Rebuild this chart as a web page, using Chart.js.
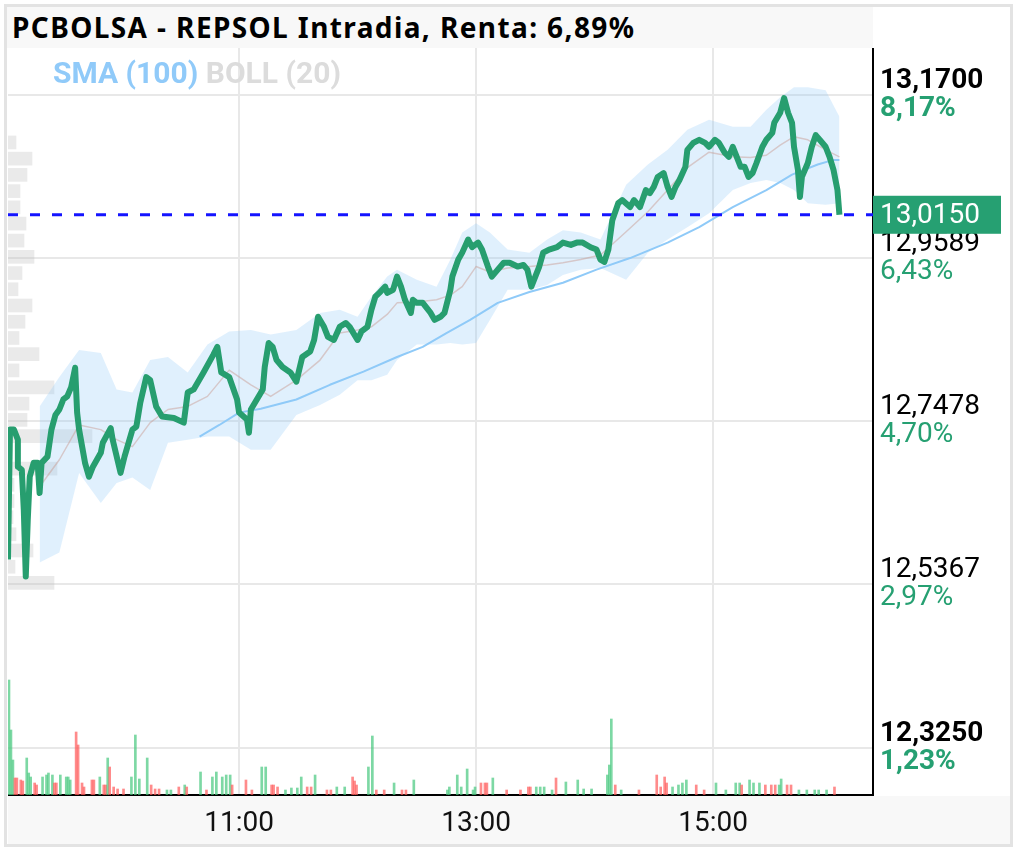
<!DOCTYPE html>
<html>
<head>
<meta charset="utf-8">
<script src="https://cdn.jsdelivr.net/npm/chart.js"></script>
<style>
  body { margin: 0; background: #fff; }
  #frame { position: absolute; left: 4px; top: 4px; width: 1009px; height: 843px; border: 3px solid #e3e3e3; box-sizing: border-box; }
  #title { position: absolute; left: 7px; top: 7px; width: 866px; height: 41px; background: #f8f8f8; color: #000;
           font: bold 28px "Noto Sans"; letter-spacing: 1.4px; line-height: 41px; padding-left: 5px; box-sizing: border-box; white-space: nowrap; }
  #chart { position: absolute; left: 8px; top: 48px; }
  #legend { position: absolute; left: 53px; top: 55px; font: bold 30px Roboto; white-space: nowrap; z-index: 2; }
</style>
</head>
<body>
<div id="frame"></div>
<div id="title">PCBOLSA - REPSOL Intradia, Renta: 6,89%</div>
<canvas id="chart" width="1002" height="796"></canvas>
<div id="legend"><span style="color:#90caf9">SMA (100)</span> <span style="color:#dcdcdc">BOLL (20)</span></div>
<script>
// times are minutes since midnight
const xMin = 543, xMax = 981;
const xTickTimes = [660, 780, 900];
const yTickValues = [12.325, 12.5367, 12.7478, 12.9589, 13.17];
const pctChanges = [1.23, 2.97, 4.70, 6.43, 8.17];
const lastPrice = 13.015;

const priceTimes = [
  543,544,546,548,548,550,551,552,553,554,
  556,558,559,560,563,565,567,569,571,573,
  575,577,578,579,582,584,586,590,591,595,
  596,600,602,606,608,610,613,615,618,621,
  627,632,634,637,642,647,649,651,655,659,
  660,664,665,666,669,672,673,675,677,679,
  682,686,689,692,696,698,700,703,705,708,
  711,714,716,720,722,725,727,729,731,734,
  735,738,740,742,744,747,748,750,753,757,
  759,762,764,767,768,771,773,776,778,781,
  783,786,788,791,794,797,801,804,806,808,
  810,812,814,817,821,824,828,831,834,838,
  841,843,845,847,849,852,854,858,860,863,
  866,868,870,872,875,877,879,881,883,886,
  887,890,893,896,898,901,903,906,908,910,
  912,914,916,918,920,922,925,927,930,931,
  934,936,938,940,941,943,944,945,948,950,
  952,954,957,959,961,963,964
];
const priceValues = [
  12.569,12.737,12.737,12.724,12.689,12.685,12.633,12.547,12.620,12.676,
  12.694,12.694,12.655,12.694,12.702,12.737,12.756,12.763,12.776,12.780,
  12.792,12.817,12.759,12.737,12.694,12.676,12.689,12.707,12.720,12.739,
  12.724,12.681,12.702,12.737,12.741,12.772,12.805,12.801,12.767,12.754,
  12.752,12.746,12.785,12.789,12.811,12.834,12.844,12.811,12.805,12.776,
  12.759,12.750,12.733,12.763,12.776,12.789,12.818,12.849,12.844,12.827,
  12.818,12.811,12.799,12.831,12.838,12.853,12.883,12.870,12.857,12.853,
  12.870,12.875,12.870,12.853,12.864,12.870,12.892,12.909,12.914,12.922,
  12.914,12.918,12.935,12.922,12.905,12.888,12.905,12.901,12.901,12.888,
  12.879,12.883,12.888,12.918,12.935,12.957,12.966,12.983,12.973,12.979,
  12.970,12.948,12.935,12.944,12.953,12.953,12.948,12.950,12.944,12.922,
  12.935,12.948,12.966,12.970,12.973,12.979,12.976,12.979,12.979,12.973,
  12.970,12.957,12.954,12.970,13.008,13.030,13.034,13.025,13.034,13.025,
  13.047,13.043,13.051,13.064,13.069,13.051,13.038,13.051,13.060,13.077,
  13.099,13.108,13.112,13.108,13.103,13.112,13.108,13.095,13.090,13.103,
  13.090,13.077,13.077,13.064,13.069,13.082,13.103,13.112,13.121,13.134,
  13.147,13.166,13.147,13.134,13.103,13.073,13.038,13.064,13.082,13.103,
  13.118,13.112,13.103,13.090,13.073,13.047,13.015
];

const smaTimes = [640,650,660,671,689,706,723,740,753,765,777,791,807,824,841,858,877,893,910,927,940,953,961,964];
const smaValues = [12.728,12.743,12.759,12.764,12.776,12.795,12.812,12.831,12.844,12.862,12.879,12.901,
                   12.915,12.927,12.944,12.959,12.979,12.999,13.025,13.047,13.067,13.080,13.086,13.086];

const bollTimes = [559,569,579,590,598,606,615,624,634,644,655,666,676,689,701,711,720,727,735,740,750,760,767,
                   773,780,787,796,807,816,824,833,843,856,867,877,887,898,910,919,927,934,941,948,957,964];
const bollUpper = [12.767,12.805,12.840,12.836,12.789,12.785,12.827,12.831,12.811,12.847,12.864,12.866,12.860,12.866,
                   12.888,12.892,12.883,12.909,12.935,12.944,12.931,12.922,12.957,12.992,13.004,12.992,12.970,12.966,
                   12.983,12.995,12.992,12.983,13.054,13.080,13.099,13.125,13.138,13.129,13.129,13.151,13.167,13.180,
                   13.180,13.176,13.142];
const bollMid = [12.663,12.698,12.743,12.737,12.724,12.715,12.746,12.763,12.767,12.780,12.814,12.795,12.780,12.801,
                 12.827,12.862,12.866,12.870,12.886,12.901,12.902,12.905,12.911,12.922,12.948,12.941,12.946,12.948,
                 12.950,12.953,12.957,12.963,12.993,13.019,13.047,13.076,13.096,13.090,13.089,13.092,13.105,13.116,
                 13.112,13.099,13.090];
const bollLower = [12.565,12.578,12.681,12.642,12.668,12.675,12.659,12.720,12.724,12.728,12.728,12.711,12.711,12.756,
                   12.769,12.782,12.801,12.801,12.808,12.827,12.847,12.847,12.849,12.847,12.849,12.879,12.918,12.918,
                   12.924,12.937,12.944,12.946,12.931,12.966,12.983,12.999,13.017,13.047,13.056,13.060,13.056,13.047,
                   13.030,13.028,13.030];

// volume per minute (thousand shares), up = 1 green, 0 red
const volTimes = [544,545,546,547,548,550,551,553,554,555,557,558,561,563,564,566,567,568,570,573,574,575,578,579,581,582,
  586,587,590,592,593,594,595,597,599,602,606,608,610,614,616,618,620,624,626,630,633,634,641,644,647,649,652,654,656,657,
  664,667,672,674,677,678,680,684,687,690,692,695,697,699,705,707,710,714,718,719,720,726,728,730,734,739,743,745,749,
  766,767,771,773,776,779,780,783,785,786,789,796,803,807,808,811,813,815,819,821,826,832,835,839,847,848,849,851,854,
  863,872,874,876,877,880,883,885,887,892,896,902,907,912,914,915,919,921,924,927,930,932,934,935,938,940,944,948,952,954,958,962];
const volValues = [115,65,35,17,17,15,14,37,22,18,12,10,18,20,22,20,12,12,20,18,18,15,63,50,12,8,
  15,15,18,10,10,37,28,8,6,6,18,60,16,37,10,6,6,5,5,8,10,8,23,5,18,23,18,20,20,10,
  15,5,28,28,10,10,8,5,7,7,18,8,8,20,5,5,8,8,18,14,10,28,59,5,5,12,5,5,15,
  5,8,20,8,26,5,8,12,12,12,17,5,5,8,8,8,8,8,5,17,13,15,6,6,20,30,76,10,5,
  5,20,8,18,12,8,10,12,15,10,5,12,5,12,12,10,15,12,12,10,10,10,10,16,10,10,5,5,5,5,5,8];
const volUp = [1,1,1,0,0,0,0,1,1,1,0,0,1,1,1,1,0,0,1,1,1,1,0,0,0,0,
  0,0,1,0,0,1,0,0,0,0,1,1,1,1,0,0,0,1,1,0,1,0,1,0,1,1,1,1,1,0,
  0,0,1,1,0,0,0,1,1,1,1,0,0,1,0,0,1,1,0,0,0,1,1,0,0,1,0,0,1,
  1,1,1,1,1,1,1,0,0,0,1,0,0,0,0,1,1,1,1,0,1,1,1,1,1,1,1,0,1,
  0,0,0,0,0,1,1,1,1,0,0,1,1,1,1,0,1,1,1,0,0,0,1,1,0,0,1,1,1,1,1,0];

// volume profile by price level
const profilePrices = [13.117,13.096,13.075,13.054,13.033,13.012,12.990,12.969,12.948,12.927,12.906,12.885,12.864,12.843,
                       12.822,12.800,12.779,12.758,12.737,12.716,12.695,12.674,12.653,12.632,12.610,12.589,12.568,12.547];
const profileVolumes = [8,24,19,12,12,18,16,26,14,10,24,17,11,31,11,46,21,19,84,4,49,6,6,5,8,25,7,46];

const green = '#279e6f';
const fmtTime = v => Math.floor(v / 60) + ':' + String(v % 60).padStart(2, '0');
const fmtNum = (v, d) => v.toFixed(d).replace('.', ',');

const extras = {
  id: 'extras',
  beforeDraw(chart) {
    const { ctx, chartArea, width, height } = chart;
    ctx.save();
    ctx.fillStyle = '#f8f8f8';
    ctx.fillRect(0, chartArea.bottom + 1, width, height - chartArea.bottom - 1);
    ctx.restore();
  },
  afterDraw(chart) {
    const { ctx, chartArea } = chart;
    const y = chart.scales.y;
    ctx.save();
    ctx.textBaseline = 'middle';
    ctx.textAlign = 'left';
    yTickValues.forEach((v, i) => {
      const py = y.getPixelForValue(v);
      const bold = i === 0 || i === yTickValues.length - 1;
      ctx.font = (bold ? 'bold ' : '') + '28px Roboto';
      ctx.fillStyle = '#26a072';
      ctx.fillText(fmtNum(pctChanges[i], 2) + '%', chartArea.right + 7, py + 14);
    });
    const ly = y.getPixelForValue(lastPrice);
    ctx.fillStyle = '#26a072';
    ctx.fillRect(chartArea.right, ly - 19, 128, 38);
    ctx.fillStyle = '#fff';
    ctx.font = '28px Roboto';
    ctx.fillText(fmtNum(lastPrice, 4), chartArea.right + 7, ly + 1);
    ctx.restore();
  }
};

Chart.defaults.font.family = 'Roboto';

new Chart(document.getElementById('chart'), {
  type: 'line',
  data: {
    datasets: [
      {
        label: 'REPSOL',
        data: priceTimes.map((t, i) => ({ x: t, y: priceValues[i] })),
        borderColor: green, borderWidth: 6, order: 0
      },
      {
        label: 'Último',
        data: [{ x: xMin, y: lastPrice }, { x: xMax, y: lastPrice }],
        borderColor: '#1414ff', borderWidth: 3, borderDash: [10, 12], order: 1
      },
      {
        label: 'SMA (100)',
        data: smaTimes.map((t, i) => ({ x: t, y: smaValues[i] })),
        borderColor: '#8fcaf8', borderWidth: 2, order: 2
      },
      {
        label: 'BOLL media',
        data: bollTimes.map((t, i) => ({ x: t, y: bollMid[i] })),
        borderColor: 'rgba(200,150,140,0.45)', borderWidth: 1.5, order: 3
      },
      {
        label: 'BOLL sup',
        data: bollTimes.map((t, i) => ({ x: t, y: bollUpper[i] })),
        borderColor: 'rgba(0,0,0,0)', borderWidth: 0,
        backgroundColor: 'rgba(144,202,249,0.28)', fill: '+1', order: 4
      },
      {
        label: 'BOLL inf',
        data: bollTimes.map((t, i) => ({ x: t, y: bollLower[i] })),
        borderColor: 'rgba(0,0,0,0)', borderWidth: 0, order: 5
      },
      {
        type: 'bar', label: 'Perfil', indexAxis: 'y',
        data: profilePrices.map((p, i) => ({ x: profileVolumes[i], y: p })),
        xAxisID: 'xProf', yAxisID: 'y',
        backgroundColor: 'rgba(185,185,185,0.3)', barThickness: 13, order: 6
      },
      {
        type: 'bar', label: 'Volumen',
        data: volTimes.map((t, i) => ({ x: t, y: volValues[i] })),
        xAxisID: 'x', yAxisID: 'yVol',
        backgroundColor: volUp.map(u => u ? 'rgba(70,200,125,0.7)' : 'rgba(255,90,90,0.7)'),
        barThickness: 2, order: 7
      }
    ]
  },
  options: {
    responsive: false,
    animation: false,
    events: [],
    layout: { padding: 0 },
    elements: { point: { radius: 0 }, line: { borderJoinStyle: 'round', tension: 0 } },
    plugins: { legend: { display: false }, tooltip: { enabled: false } },
    scales: {
      x: {
        type: 'linear', position: 'bottom', min: xMin, max: xMax, offset: false,
        grid: { color: '#e8e8e8', lineWidth: 2, drawTicks: false, offset: false },
        border: { color: '#000', width: 2 },
        ticks: { color: '#111', font: { size: 28 }, padding: 12, maxRotation: 0, callback: v => fmtTime(v) },
        afterBuildTicks: s => { s.ticks = xTickTimes.map(v => ({ value: v })); },
        afterFit: s => { s.height = 49; s.paddingLeft = 0; s.paddingRight = 0; }
      },
      y: {
        type: 'linear', position: 'right', min: 12.2642, max: 13.2308, offset: false,
        grid: { color: '#e8e8e8', lineWidth: 2, drawTicks: false, offset: false },
        border: { color: '#000', width: 2 },
        ticks: {
          color: '#000', padding: 7, labelOffset: -14,
          font: c => ({ size: 28, weight: (c.index === 0 || c.index === yTickValues.length - 1) ? 'bold' : 'normal' }),
          callback: v => fmtNum(v, 4)
        },
        afterBuildTicks: s => { s.ticks = yTickValues.map(v => ({ value: v })); },
        afterFit: s => { s.width = 137; s.paddingTop = 0; s.paddingBottom = 0; }
      },
      yVol: { type: 'linear', axis: 'y', display: false, min: 0, max: 747 },
      xProf: { type: 'linear', axis: 'x', display: false, min: 0, max: 865 }
    }
  },
  plugins: [extras]
});
</script>
</body>
</html>
